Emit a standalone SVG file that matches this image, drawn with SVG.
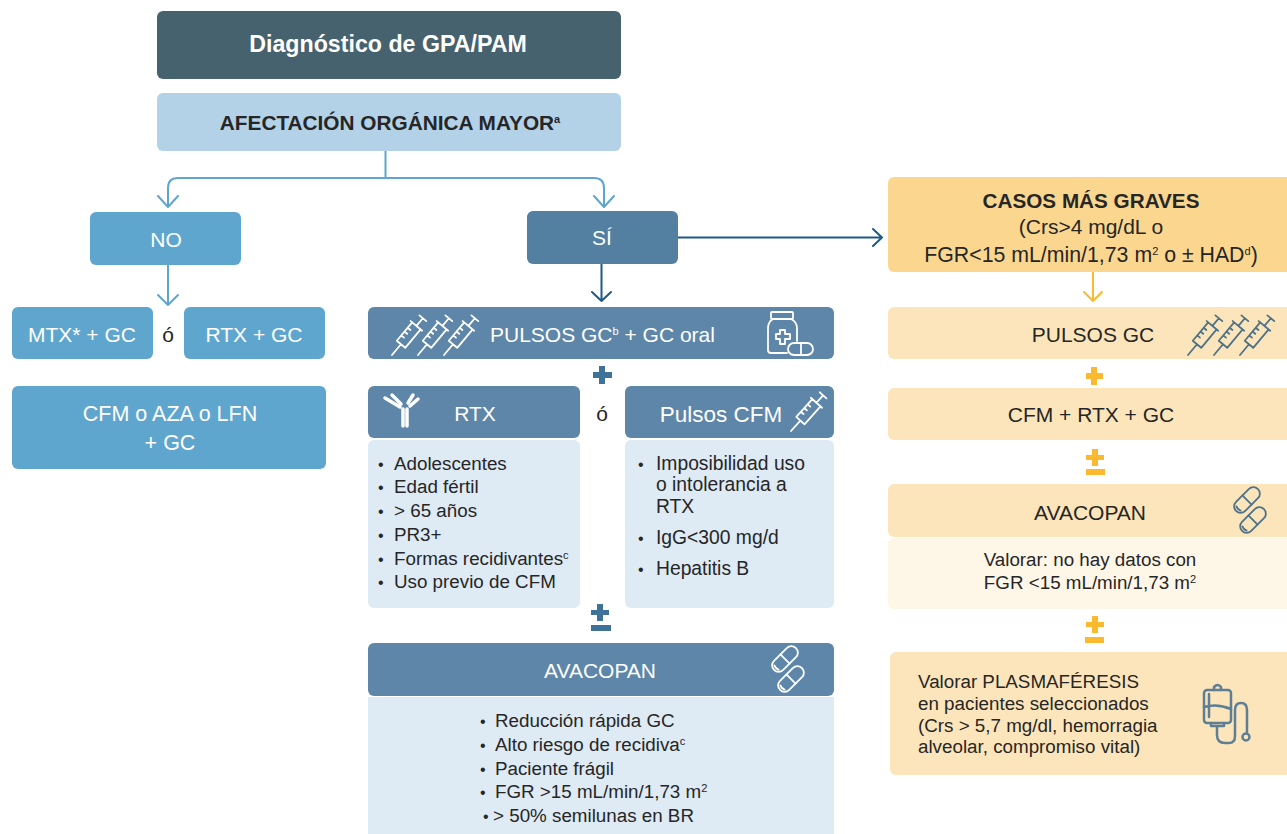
<svg xmlns="http://www.w3.org/2000/svg" xmlns:xlink="http://www.w3.org/1999/xlink" width="1287" height="834" viewBox="0 0 1287 834">
<style>
text{font-family:"Liberation Sans",Arial,sans-serif;font-size:21px;fill:#262626}
.m{text-anchor:middle}
.w{fill:#fff}
.b{font-weight:bold}
.s{font-size:18.800px}
.bu{font-size:16px}
.sup{font-size:11px}
.line{fill:none;stroke-linecap:round;stroke-linejoin:round;stroke-width:2}
.ico{fill:none;stroke-linecap:round;stroke-linejoin:round;stroke-width:1.800}
.iw{stroke:#fff}
.id{stroke:#4f7287}
</style>
<defs>
<g id="syr">
<path d="M0 0V-14M-5.500 -14H5.500M-5.500 -14V-38H5.500V-14M-7.500 -38H7.500M0 -38V-48M-4.500 -48H4.500M-5.500 -21H-2M-5.500 -26H-2M-5.500 -31H-2"/>
</g>
<g id="syr3">
<use xlink:href="#syr" transform="rotate(40)"/>
<use xlink:href="#syr" transform="translate(26 0) rotate(40)"/>
<use xlink:href="#syr" transform="translate(52 0) rotate(40)"/>
</g>
<g id="pill">
<rect x="-15.500" y="-6.500" width="31" height="13" rx="6.500"/>
<path d="M0 -6.500V6.500M-12 -3Q-13.500 0 -12 3"/>
</g>
<g id="pills">
<use xlink:href="#pill" transform="translate(-3 -10) rotate(-45)"/>
<use xlink:href="#pill" transform="translate(3 10) rotate(-45)"/>
</g>
</defs>

<g id="connectors">
<path class="line" stroke="#5fa6cf" d="M385.500 151V178M385.500 178H178Q168 178 168 188V206M385.500 178H594Q604 178 604 188V206"/>
<path class="line" stroke="#5fa6cf" d="M158 196L168 207L178 196M594 196L604 207L614 196"/>
<path class="line" stroke="#5fa6cf" d="M168 265V305M158 295L168 305L178 295"/>
<path class="line" stroke="#1f5a83" d="M601.500 264V301M592 292L601.500 301L611 292"/>
<path class="line" stroke="#1f5a83" d="M678 237.500H882M873 229L882 237.500L873 246"/>
<path class="line" stroke="#fbb92f" d="M1093 272V301M1084 292L1093 301L1102 292"/>
</g>

<g id="diagnostico"><rect x="157" y="11" width="464" height="68" rx="6" fill="#47626f"/><text class="m w b" x="388" y="52" style="font-size:23.200px">Diagnóstico de GPA/PAM</text></g>
<g id="afectacion"><rect x="157" y="93" width="464" height="58" rx="6" fill="#b3d2e8"/><text class="m b" x="390" y="130" style="font-size:20.800px">AFECTACIÓN ORGÁNICA MAYOR<tspan class="sup" dy="-7">a</tspan></text></g>

<g id="no"><rect x="90" y="212" width="151" height="53" rx="6" fill="#5fa6cf"/><text class="m w" x="166" y="247">NO</text></g>
<g id="si"><rect x="527" y="211" width="151" height="53" rx="6" fill="#537fa1"/><text class="m w" x="602" y="245">SÍ</text></g>

<g id="mtx"><rect x="12" y="307" width="141" height="52" rx="6" fill="#5fa6cf"/><text class="m w" x="82" y="342">MTX* + GC</text></g>
<text class="m" x="168" y="342">ó</text>
<g id="rtx-gc"><rect x="184" y="307" width="141" height="52" rx="6" fill="#5fa6cf"/><text class="m w" x="254" y="342">RTX + GC</text></g>
<g id="cfm-aza"><rect x="12" y="386" width="314" height="83" rx="6" fill="#5fa6cf"/><text class="m w" x="170" y="421" style="font-size:21.500px">CFM o AZA o LFN</text><text class="m w" x="170" y="450" style="font-size:21.500px">+ GC</text></g>

<g id="pulsos-gc"><rect x="368" y="307" width="466" height="52" rx="6" fill="#5e86a8"/><text class="w" x="490" y="342">PULSOS GC<tspan class="sup" dy="-7">b</tspan><tspan dy="7"> + GC oral</tspan></text>
<use xlink:href="#syr3" class="ico iw" transform="translate(392 355)"/>
<g class="ico iw"><rect x="771" y="312" width="22" height="7" rx="1"/><path d="M773 319Q768 322 768 328V350Q768 353 771 353H787M791 319Q797 322 797 328V341"/><path d="M776 334H780V330H785V334H790V339H785V344H780V339H776Z"/><rect x="788" y="343" width="25" height="12" rx="6"/><path d="M801 343V355"/></g></g>
<path id="plus1" d="M599 366h6v6h7v6h-7v6h-6v-6h-6v-6h6z" fill="#3f7298"/>
<g id="rtx"><rect x="368" y="386" width="212" height="52" rx="6" fill="#5e86a8"/><text class="m w" x="475" y="421">RTX</text>
<g fill="none" stroke="#fff" stroke-width="3.500" stroke-linecap="round" stroke-linejoin="round"><path d="M403 409V426M407 409V426M385 398L400 407M392 395L401 404M418 399L410 406M413 395L408 403"/></g></g>
<text class="m" x="602" y="421">ó</text>
<g id="pulsos-cfm"><rect x="625" y="386" width="209" height="52" rx="6" fill="#5e86a8"/><text class="m w" x="721" y="422" style="font-size:22.500px">Pulsos CFM</text><use xlink:href="#syr" class="ico iw" transform="translate(791 431) rotate(42)"/></g>

<g id="rtx-list"><rect x="368" y="440" width="212" height="168" rx="6" fill="#deeaf4"/>
<text class="bu" x="378" y="470">•</text><text class="s" x="394" y="470">Adolescentes</text>
<text class="bu" x="378" y="493">•</text><text class="s" x="394" y="493">Edad fértil</text>
<text class="bu" x="378" y="517">•</text><text class="s" x="394" y="517">&gt; 65 años</text>
<text class="bu" x="378" y="541">•</text><text class="s" x="394" y="541">PR3+</text>
<text class="bu" x="378" y="565">•</text><text class="s" x="394" y="565">Formas recidivantes<tspan class="sup" dy="-6">c</tspan></text>
<text class="bu" x="378" y="588">•</text><text class="s" x="394" y="588">Uso previo de CFM</text></g>
<g id="cfm-list"><rect x="625" y="440" width="209" height="168" rx="6" fill="#deeaf4"/>
<text class="bu" x="638" y="470">•</text><text class="s" x="656" y="470" style="font-size:19.300px">Imposibilidad uso</text><text class="s" x="656" y="491" style="font-size:19.300px">o intolerancia a</text><text class="s" x="656" y="513" style="font-size:19.300px">RTX</text>
<text class="bu" x="638" y="544">•</text><text class="s" x="656" y="544" style="font-size:19.300px">IgG&lt;300 mg/d</text>
<text class="bu" x="638" y="575">•</text><text class="s" x="656" y="575" style="font-size:19.300px">Hepatitis B</text></g>

<path id="pm1" d="M597 604h6v6h6v5h-6v6h-6v-6h-6v-5h6zM591 625h20v6h-20z" fill="#3f7298"/>
<g id="avacopan"><rect x="368" y="643" width="466" height="53" rx="6" fill="#5e86a8"/><text class="m w" x="600" y="678">AVACOPAN</text><use xlink:href="#pills" class="ico iw" transform="translate(788 669)"/></g>
<g id="avacopan-list"><rect x="368" y="697" width="466" height="137" fill="#deeaf4"/>
<text class="bu" x="480" y="727">•</text><text class="s" x="495" y="727">Reducción rápida GC</text>
<text class="bu" x="480" y="751">•</text><text class="s" x="495" y="751">Alto riesgo de recidiva<tspan class="sup" dy="-6">c</tspan></text>
<text class="bu" x="480" y="775">•</text><text class="s" x="495" y="775">Paciente frágil</text>
<text class="bu" x="480" y="798">•</text><text class="s" x="495" y="798">FGR &gt;15 mL/min/1,73 m<tspan class="sup" dy="-6">2</tspan></text>
<text class="bu" x="483" y="822">•</text><text class="s" x="493" y="822">&gt; 50% semilunas en BR</text></g>

<g id="casos"><rect x="888" y="177" width="405" height="95" rx="6" fill="#fbd68f"/><text class="m b" x="1091" y="208" style="font-size:20.700px">CASOS MÁS GRAVES</text><text class="m" x="1091" y="234">(Crs&gt;4 mg/dL o</text><text class="m" x="1091" y="262" style="font-size:21.300px">FGR&lt;15 mL/min/1,73 m<tspan class="sup" dy="-7">2</tspan><tspan dy="7"> o ± HAD</tspan><tspan class="sup" dy="-7">d</tspan><tspan dy="7">)</tspan></text></g>
<g id="pulsos-gc-2"><rect x="888" y="307" width="405" height="52" rx="6" fill="#fce5bb"/><text class="m" x="1093" y="342">PULSOS GC</text><use xlink:href="#syr3" class="ico id" transform="translate(1188 355)"/></g>
<path id="plus2" d="M1091 367h6v6h6v6h-6v6h-6v-6h-5v-6h5z" fill="#fbb92f"/>
<g id="cfm-rtx"><rect x="888" y="388" width="405" height="52" rx="6" fill="#fce5bb"/><text class="m" x="1091" y="422">CFM + RTX + GC</text></g>
<path id="pm2" d="M1092 449h6v6h6v5h-6v6h-6v-6h-6v-5h6zM1086 469h19v6h-19z" fill="#fbb92f"/>
<g id="avacopan-2"><rect x="888" y="484" width="405" height="53" rx="6" fill="#fce5bb"/><text class="m" x="1090" y="520">AVACOPAN</text><use xlink:href="#pills" class="ico id" transform="translate(1250 510)"/></g>
<g id="valorar"><rect x="888" y="538" width="405" height="71" rx="6" fill="#fef6e7"/><text class="m s" x="1090" y="566">Valorar: no hay datos con</text><text class="m s" x="1090" y="589">FGR &lt;15 mL/min/1,73 m<tspan class="sup" dy="-6">2</tspan></text></g>
<path id="pm3" d="M1092 616h6v6h6v5h-6v6h-6v-6h-6v-5h6zM1085 637h19v6h-19z" fill="#fbb92f"/>
<g id="plasma"><rect x="890" y="652" width="403" height="123" rx="6" fill="#fce5bb"/>
<text class="s" x="918" y="688">Valorar PLASMAFÉRESIS</text><text class="s" x="918" y="710">en pacientes seleccionados</text><text class="s" x="918" y="732">(Crs &gt; 5,7 mg/dl, hemorragia</text><text class="s" x="918" y="753">alveolar, compromiso vital)</text>
<g fill="none" stroke="#5d7f96" stroke-width="2.500" stroke-linecap="round" stroke-linejoin="round"><rect x="1204" y="690" width="27" height="33" rx="3"/><path d="M1214 690V687Q1218 683 1221 687V690M1209 694V717M1204 707Q1217 703 1231 709M1211 723V726H1224V723M1217 726V735Q1217 743 1225 743H1229Q1235 743 1235 736V710Q1235 703 1241 703Q1247 703 1247 710V732"/><circle cx="1246" cy="737" r="3.500"/></g></g>
</svg>
